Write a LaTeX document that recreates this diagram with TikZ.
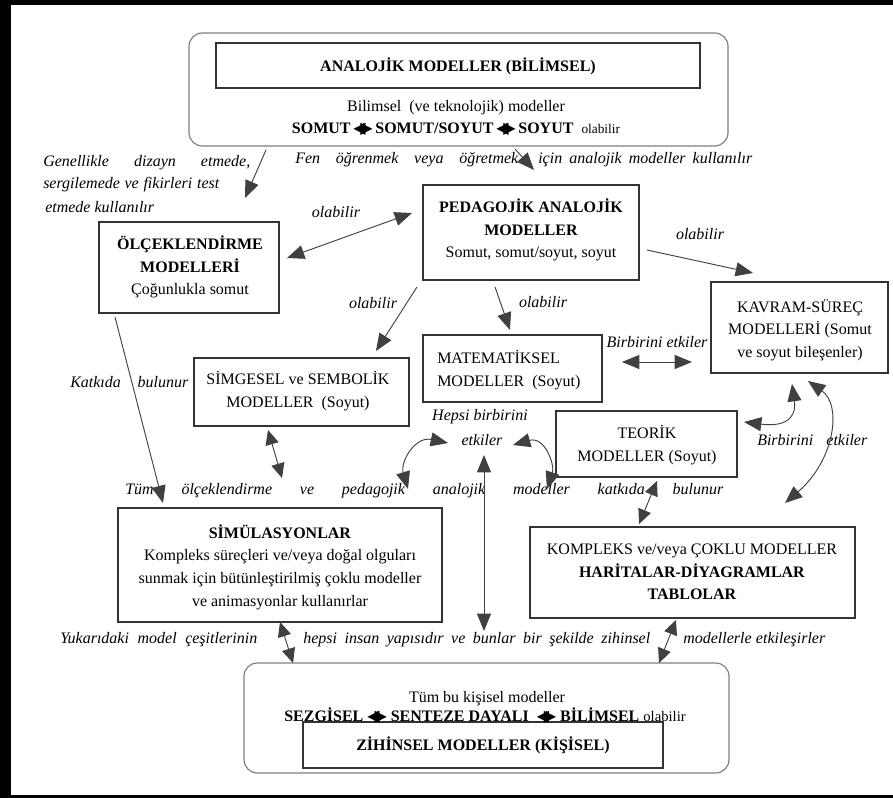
\documentclass[tikz,border=0pt]{standalone}
\usepackage{fontspec}
\setmainfont{Liberation Serif}
\newfontfamily\symf{DejaVu Sans}
\usetikzlibrary{arrows.meta,fit,shadows}
\newlength\pxu
\setlength\pxu{0.75pt}
\newcommand\spreadtxt[2]{\makebox[#1\pxu][s]{#2}}
\newcommand\dblarr{{\symf\fontsize{12}{12}\selectfont ◀\kern-2.2pt\rule[-0.5pt]{0.5pt}{8pt}\kern-2.2pt▶}}
\newcommand\bxf{\fontsize{12}{17}\selectfont}
\tikzset{
  box/.style={draw=black!80, line width=0.9pt, fill=white, inner sep=0pt,
    drop shadow={shadow xshift=0.9pt, shadow yshift=-0.9pt, fill=black, opacity=0.35}},
  rbox/.style={draw=black!50, line width=0.9pt, rounded corners=10pt, inner sep=0pt},
  bt/.style={inner sep=0pt, align=center, font=\bxf},
  it/.style={inner sep=0pt, font=\fontsize{12}{14}\selectfont\itshape},
  arr/.style={draw=black!75, line width=0.7pt, -{Triangle[length=13pt,width=10.5pt]}},
  darr/.style={draw=black!75, line width=0.7pt, {Triangle[length=13pt,width=10.5pt]}-{Triangle[length=13pt,width=10.5pt]}},
  sdarr/.style={draw=black!75, line width=0.7pt, {Triangle[length=11pt,width=10pt]}-{Triangle[length=11pt,width=10pt]}}
}
\begin{document}
\begin{tikzpicture}[x=0.75pt,y=-0.75pt]
\useasboundingbox (0,0) rectangle (893,798);
% frame
\fill[black] (0,0) rectangle (11,798);
\fill[black] (0,0) rectangle (893,5);
\fill[black] (0,795) rectangle (893,798);

% boxes
\node[rbox, fit={(189,33)(728,146)}] (topbox) {};
\node[box, fit={(216,43)(700,88)}] (anabox) {};
\node[box, fit={(423,185)(639,280)}] (ped) {};
\node[box, fit={(99,222)(279,313)}] (olc) {};
\node[box, fit={(194,358)(409,426)}] (simg) {};
\node[box, fit={(423,335)(602,402)}] (mat) {};
\node[box, fit={(711,282)(888,373)}] (kav) {};
\node[box, fit={(556,411)(737,477)}] (teo) {};
\node[box, fit={(118,508)(442,622)}] (simu) {};
\node[box, fit={(530,527)(855,618)}] (kom) {};
\node[rbox, fit={(244,663)(729,773)}] (botbox) {};
\node[box, fit={(303,722)(663,768)}] (zih) {};

% box texts
\node[bt, font=\bxf\bfseries] (t_ana) at (458,66) {ANALOJİK MODELLER (BİLİMSEL)};
\node[bt] (t_bil) at (456,108) {Bilimsel \ (ve teknolojik) modeller};
\node[bt] (t_som) at (456,129) {\textbf{SOMUT}\,\dblarr\,\textbf{SOMUT/SOYUT}\,\dblarr\,\textbf{SOYUT}\ \ {\fontsize{10}{12}\selectfont olabilir}};
\node[bt] (t_ped) at (531,230) {\textbf{PEDAGOJİK ANALOJİK}\\\textbf{MODELLER}\\Somut, somut/soyut, soyut};
\node[bt] (t_olc) at (190,267) {\textbf{ÖLÇEKLENDİRME}\\\textbf{MODELLERİ}\\Çoğunlukla somut};
\node[bt] (t_simg) at (298,391) {SİMGESEL ve SEMBOLİK\\MODELLER \ (Soyut)};
\node[bt, align=left, anchor=west] (t_mat) at (437,370) {MATEMATİKSEL\\MODELLER \ (Soyut)};
\node[bt] (t_kav) at (800,330) {KAVRAM-SÜREÇ\\MODELLERİ (Somut\\ve soyut bileşenler)};
\node[bt] (t_teo) at (647,445) {TEORİK\\MODELLER (Soyut)};
\node[bt] (t_simu) at (280,567) {\textbf{SİMÜLASYONLAR}\\Kompleks süreçleri ve/veya doğal olguları\\sunmak için bütünleştirilmiş çoklu modeller\\ve animasyonlar kullanırlar};
\node[bt] (t_kom) at (692,572) {KOMPLEKS ve/veya ÇOKLU MODELLER\\\textbf{HARİTALAR-DİYAGRAMLAR}\\\textbf{TABLOLAR}};
\node[bt] (t_tum) at (487,699) {Tüm bu kişisel modeller};
\node[bt, anchor=base] (t_sez) at (485,721) {\textbf{SEZGİSEL} \dblarr{} \textbf{SENTEZE DAYALI} \ \dblarr{} \textbf{BİLİMSEL} {\fontsize{11}{12}\selectfont olabilir}};
\node[bt, font=\bxf\bfseries] (t_zih) at (483,745) {ZİHİNSEL MODELLER (KİŞİSEL)};

% annotations
\node[it, anchor=west] (n_gen) at (43,163) {\spreadtxt{207}{Genellikle dizayn etmede,}};
\node[it, anchor=west] (n_ser) at (43,185) {\spreadtxt{176}{sergilemede ve fikirleri test}};
\node[it, anchor=west] (n_etm) at (45,207) {etmede kullanılır};
\node[it, anchor=west] (n_fen) at (295,160) {\spreadtxt{223}{Fen öğrenmek veya öğretmek}};
\node[it, anchor=west] (n_icin) at (538,160) {\spreadtxt{214}{için analojik modeller kullanılır}};
\node[it] (n_ol1) at (336,212) {olabilir};
\node[it] (n_ol2) at (373,303) {olabilir};
\node[it] (n_ol3) at (543,302) {olabilir};
\node[it] (n_ol4) at (700,234) {olabilir};
\node[it, anchor=west] (n_kat) at (70,382) {\spreadtxt{118}{Katkıda bulunur}};
\node[it] (n_bir1) at (657,342) {Birbirini etkiler};
\node[it] (n_hep) at (480,417) {Hepsi birbirini};
\node[it] (n_etk) at (482,440) {etkiler};
\node[it, anchor=west] (n_bir2) at (757,440) {\spreadtxt{110}{Birbirini etkiler}};
\node[it, anchor=west] (n_tum) at (125,491) {\spreadtxt{598}{Tüm ölçeklendirme ve pedagojik analojik modeller katkıda bulunur}};
\node[it, anchor=west] (n_yuk) at (60,640) {\spreadtxt{197}{Yukarıdaki model çeşitlerinin}};
\node[it, anchor=west] (n_hepsi) at (303,640) {\spreadtxt{347}{hepsi insan yapısıdır ve bunlar bir şekilde zihinsel}};
\node[it, anchor=west] (n_mod) at (683,640) {\spreadtxt{142}{modellerle etkileşirler}};

% connector end points
\coordinate (a1s) at (266,150); \coordinate (a1e) at (245,198);
\coordinate (a2s) at (515,149); \coordinate (a2e) at (534,170);
\coordinate (a3s) at (287,258); \coordinate (a3e) at (412,213);
\coordinate (a4s) at (417,287); \coordinate (a4e) at (376,351);
\coordinate (a5s) at (495,287); \coordinate (a5e) at (510,330);
\coordinate (a6s) at (647,250); \coordinate (a6e) at (753,273);
\coordinate (a7s) at (622,362); \coordinate (a7e) at (692,362);
\coordinate (a8s) at (115,317); \coordinate (a8e) at (163,503);
\coordinate (a9s) at (268,430); \coordinate (a9e) at (282,478);
\coordinate (a10s) at (448,443); \coordinate (a10e) at (408,489);
\coordinate (a11s) at (513,445); \coordinate (a11e) at (547,489);
\coordinate (a12s) at (484,455); \coordinate (a12e) at (484,631);
\coordinate (a13s) at (657,481); \coordinate (a13e) at (639,524);
\coordinate (a14s) at (744,422); \coordinate (a14e) at (792,384);
\coordinate (a15s) at (808,381); \coordinate (a15e) at (785,503);
\coordinate (a16s) at (280,622); \coordinate (a16e) at (293,663);
\coordinate (a17s) at (676,620); \coordinate (a17e) at (659,663);

% connectors
\draw[arr] (a1s) -- (a1e);
\draw[arr] (a2s) -- (a2e);
\draw[darr] (a3s) -- (a3e);
\draw[arr] (a4s) -- (a4e);
\draw[arr] (a5s) -- (a5e);
\draw[arr] (a6s) -- (a6e);
\draw[darr] (a7s) -- (a7e);
\draw[arr] (a8s) -- (a8e);
\draw[sdarr] (a9s) -- (a9e);
\draw[darr] (a10s) .. controls (415,436) and (400,462) .. (a10e);
\draw[darr] (a11s) .. controls (545,436) and (555,465) .. (a11e);
\draw[darr] (a12s) -- (a12e);
\draw[sdarr] (a13s) -- (a13e);
\draw[darr] (a14s) .. controls (792,428) and (796,412) .. (a14e);
\draw[darr] (a15s) .. controls (842,405) and (835,460) .. (a15e);
\draw[sdarr] (a16s) -- (a16e);
\draw[sdarr] (a17s) -- (a17e);
\end{tikzpicture}
\end{document}
